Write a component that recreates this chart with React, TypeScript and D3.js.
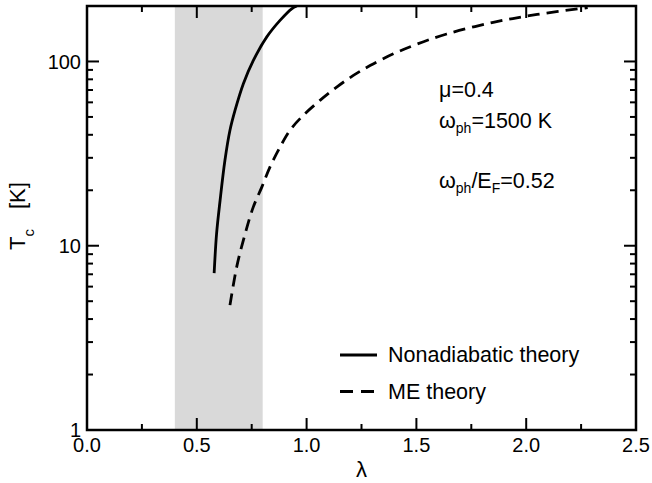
import React from "react";
import * as d3 from "d3";

// values
const nonadiabaticLambda = [0.579, 0.59, 0.606, 0.628, 0.651, 0.674, 0.712, 0.757, 0.818, 0.879, 0.932, 0.955];
const nonadiabaticTc = [7.1, 11.6, 17.6, 29, 42.3, 54.2, 75.7, 101, 135.5, 167, 193, 200];

const meLambda = [0.651, 0.682, 0.72, 0.757, 0.796, 0.833, 0.879, 0.924, 0.985, 1.061, 1.137, 1.213, 1.289, 1.395, 1.501, 1.638, 1.85, 2.05, 2.28];
const meTc = [4.76, 7.7, 11.6, 16.2, 20.8, 26.7, 34.3, 42.3, 51, 61.5, 72.6, 84, 95, 110, 124, 141, 163, 180, 196];

const xTicks = [0, 0.5, 1.0, 1.5, 2.0, 2.5];
const xMinorTicks = [0.25, 0.75, 1.25, 1.75, 2.25];
const yTicks = [1, 10, 100];
const yMinorTicks = [2, 3, 4, 5, 6, 7, 8, 9, 20, 30, 40, 50, 60, 70, 80, 90];
const band = [0.4, 0.8];

const W = 652;
const H = 483;
const margin = { top: 6, right: 16, bottom: 53, left: 87 };
const font = "'Liberation Sans', Arial, Helvetica, sans-serif";

export default function App() {
  const width = W - margin.left - margin.right;
  const height = H - margin.top - margin.bottom;

  const x = d3.scaleLinear().domain([0, 2.5]).range([0, width]);
  const y = d3.scaleLog().domain([1, 200]).range([height, 0]);

  const line = d3
    .line<[number, number]>()
    .x((d) => x(d[0]))
    .y((d) => y(d[1]))
    .curve(d3.curveCatmullRom.alpha(0.5));

  const solid = nonadiabaticLambda.map((l, i) => [l, nonadiabaticTc[i]] as [number, number]);
  const dashed = meLambda.map((l, i) => [l, meTc[i]] as [number, number]);

  const major = 12;
  const minor = 6;

  return (
    <svg
      width={W}
      height={H}
      style={{ position: "fixed", left: 0, top: 0, background: "#fff" }}
      fontFamily={font}
    >
      <defs>
        <clipPath id="plot">
          <rect x={0} y={0} width={width} height={height} />
        </clipPath>
      </defs>
      <g transform={`translate(${margin.left},${margin.top})`}>
        {/* shaded region */}
        <rect x={x(band[0])} y={0} width={x(band[1]) - x(band[0])} height={height} fill="#d9d9d9" />

        <g clipPath="url(#plot)" fill="none" stroke="#000" strokeWidth={2.8}>
          <path d={line(solid) || ""} />
          <path d={line(dashed) || ""} strokeDasharray="12,7" />
        </g>

        {/* ticks on all four sides, pointing in */}
        <g stroke="#000" strokeWidth={2}>
          {xTicks.map((t) => (
            <g key={"xt" + t}>
              <line x1={x(t)} x2={x(t)} y1={height} y2={height - major} />
              <line x1={x(t)} x2={x(t)} y1={0} y2={major} />
            </g>
          ))}
          {xMinorTicks.map((t) => (
            <g key={"xm" + t}>
              <line x1={x(t)} x2={x(t)} y1={height} y2={height - minor} />
              <line x1={x(t)} x2={x(t)} y1={0} y2={minor} />
            </g>
          ))}
          {yTicks.map((t) => (
            <g key={"yt" + t}>
              <line x1={0} x2={major} y1={y(t)} y2={y(t)} />
              <line x1={width} x2={width - major} y1={y(t)} y2={y(t)} />
            </g>
          ))}
          {yMinorTicks.map((t) => (
            <g key={"ym" + t}>
              <line x1={0} x2={minor} y1={y(t)} y2={y(t)} />
              <line x1={width} x2={width - minor} y1={y(t)} y2={y(t)} />
            </g>
          ))}
        </g>

        <rect x={0} y={0} width={width} height={height} fill="none" stroke="#000" strokeWidth={2.5} />

        {/* tick labels */}
        <g fontSize={20} fill="#000">
          {xTicks.map((t) => (
            <text key={"xl" + t} x={x(t)} y={height + 21.5} textAnchor="middle">
              {d3.format(".1f")(t)}
            </text>
          ))}
          {yTicks.map((t) => (
            <text key={"yl" + t} x={-6} y={y(t)} dy="0.36em" textAnchor="end">
              {t}
            </text>
          ))}
        </g>

        {/* axis titles */}
        <text x={width / 2} y={height + 47} textAnchor="middle" fontSize={22}>
          λ
        </text>
        <text transform={`translate(${-62},${250 - margin.top}) rotate(-90)`} fontSize={22}>
          <tspan>T</tspan>
          <tspan dy={9} fontSize={15}>c</tspan>
          <tspan dx={20} dy={-9}>[K]</tspan>
        </text>

        {/* annotations */}
        <g fontSize={21.5}>
          <text x={439 - margin.left} y={97 - margin.top}>μ=0.4</text>
          <text x={439 - margin.left} y={128 - margin.top}>
            ω<tspan dy={5} fontSize={14}>ph</tspan>
            <tspan dy={-5}>=1500 K</tspan>
          </text>
          <text x={439 - margin.left} y={188 - margin.top}>
            ω<tspan dy={5} fontSize={14}>ph</tspan>
            <tspan dy={-5}>/E</tspan>
            <tspan dy={5} fontSize={14}>F</tspan>
            <tspan dy={-5}>=0.52</tspan>
          </text>
        </g>

        {/* legend */}
        <g transform={`translate(${340 - margin.left},${355 - margin.top})`}>
          <line x1={0} x2={37} y1={0} y2={0} stroke="#000" strokeWidth={2.8} />
          <text x={48} y={7} fontSize={21.5}>Nonadiabatic theory</text>
          <line x1={0} x2={37} y1={36.5} y2={36.5} stroke="#000" strokeWidth={2.8} strokeDasharray="13,8" />
          <text x={48} y={43.5} fontSize={21.5}>ME theory</text>
        </g>
      </g>
    </svg>
  );
}
